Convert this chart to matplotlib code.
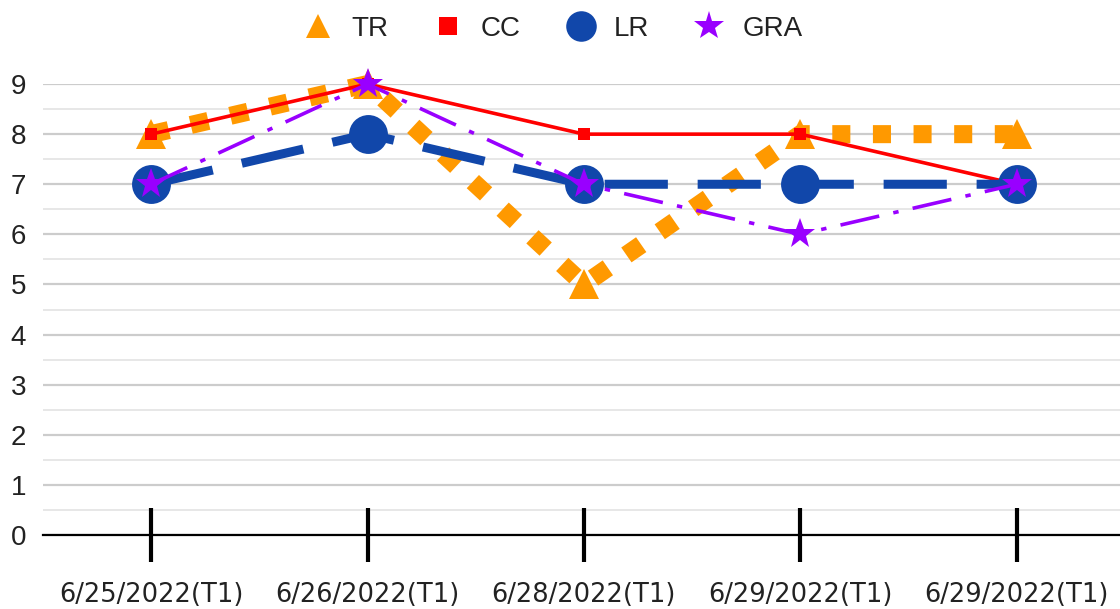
import matplotlib
matplotlib.use("Agg")
import matplotlib.pyplot as plt
from matplotlib.lines import Line2D
from matplotlib.ticker import MultipleLocator

dates = ['6/25/2022(T1)', '6/26/2022(T1)', '6/28/2022(T1)', '6/29/2022(T1)', '6/29/2022(T1)']
tr = [8, 9, 5, 8, 8]    # TR
cc = [8, 9, 8, 8, 7]    # CC
lr = [7, 8, 7, 7, 7]    # LR
gra = [7, 9, 7, 6, 7]   # GRA

orange = '#FF9900'
red = '#FF0000'
blue = '#1147AA'
purple = '#9900FF'

x = list(range(len(dates)))

fig = plt.figure(figsize=(11.2, 6.09), dpi=100)
ax = fig.add_axes([0.0384, 0.1215, 0.962, 0.7405])

ax.plot(x, tr, color=orange, lw=13, dashes=(1, 1.25), dash_capstyle='butt',
        marker='^', ms=22, mew=0, clip_on=False, zorder=3)
ax.plot(x, cc, color=red, lw=2.6, marker='s', ms=9, mew=0, clip_on=False, zorder=4)
ax.plot(x, lr, color=blue, lw=6.5, dashes=(7, 3.3), dash_capstyle='butt',
        marker='o', ms=28, mew=0, clip_on=False, zorder=5)
ax.plot(x, gra, color=purple, lw=2.6, dashes=(11, 4, 1.5, 4), dash_capstyle='butt',
        marker='*', ms=23, mew=0, clip_on=False, zorder=6)

ax.set_xlim(-0.5, 4.48)
ax.set_ylim(0, 9)
ax.yaxis.set_major_locator(MultipleLocator(1))
ax.yaxis.set_minor_locator(MultipleLocator(0.5))
ax.grid(True, which='major', axis='y', color='#cccccc', lw=1.6)
ax.grid(True, which='minor', axis='y', color='#e3e3e3', lw=1.2)
ax.set_axisbelow(True)
ax.yaxis.set_zorder(0.4)
ax.xaxis.set_zorder(2.5)

for s in ['top', 'right', 'left']:
    ax.spines[s].set_visible(False)
ax.spines['bottom'].set_color('black')
ax.spines['bottom'].set_linewidth(1.6)
ax.spines['bottom'].set_zorder(2)

ax.set_xticks(x)
ax.set_xticklabels(dates, fontfamily='DejaVu Sans', fontsize=18.5, color='#222222')
ax.tick_params(axis='x', direction='inout', length=39, width=3, color='black', pad=14)
ax.tick_params(axis='y', which='both', length=0, pad=12, labelsize=20, labelcolor='#222222')
for lab in ax.get_yticklabels():
    lab.set_fontfamily('Liberation Sans')

handles = [
    Line2D([], [], ls='none', marker='^', color=orange, ms=17, mew=0),
    Line2D([], [], ls='none', marker='s', color=red, ms=13, mew=0),
    Line2D([], [], ls='none', marker='o', color=blue, ms=22, mew=0),
    Line2D([], [], ls='none', marker='*', color=purple, ms=22, mew=0),
]
fig.legend(handles, ['TR', 'CC', 'LR', 'GRA'], loc='upper center', bbox_to_anchor=(0.494, 1.015),
           ncol=4, frameon=False, handlelength=1.0, handletextpad=0.7, columnspacing=1.65,
           prop={'family': 'Liberation Sans', 'size': 20}, labelcolor='#222222')

fig.savefig('out.png', dpi=100)
